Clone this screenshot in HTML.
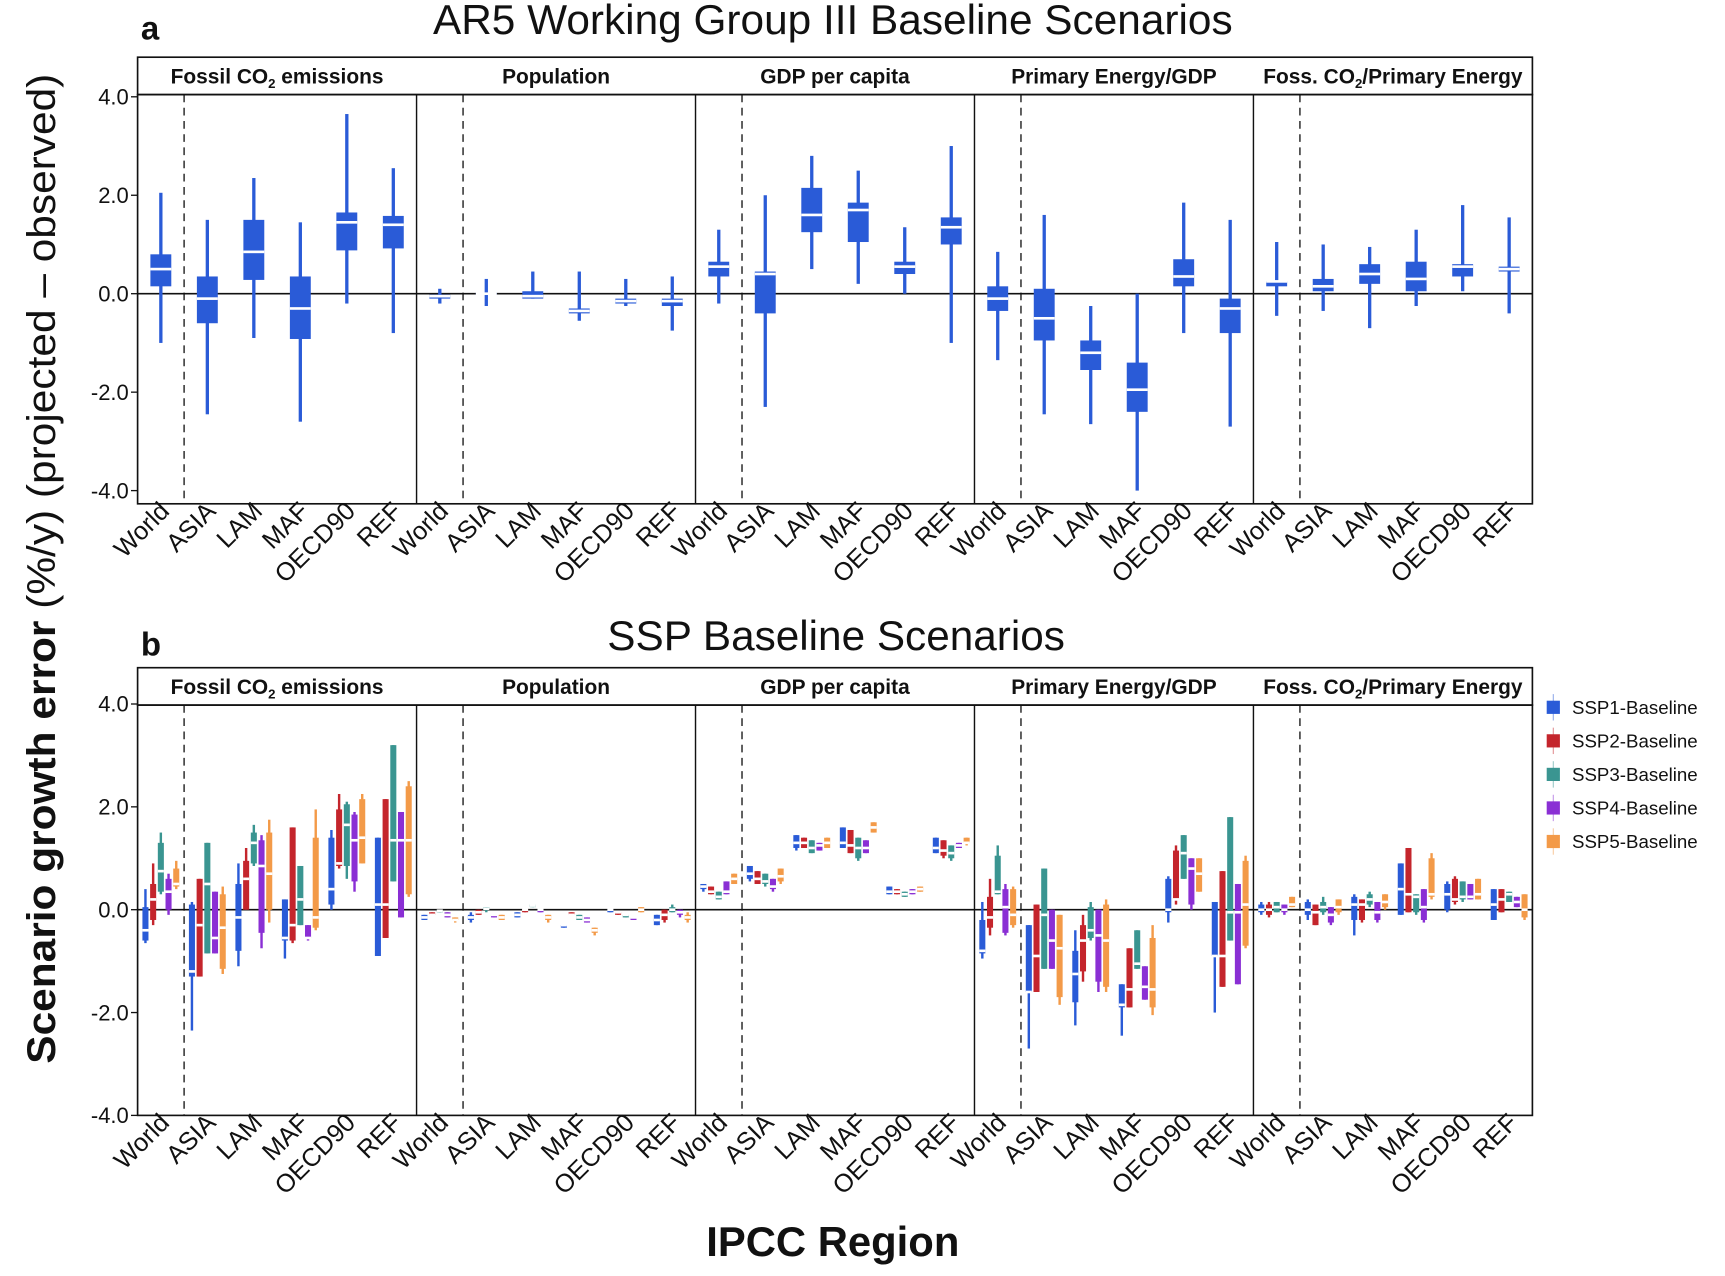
<!DOCTYPE html>
<html><head><meta charset="utf-8"><style>
html,body{margin:0;padding:0;background:#fff}
svg{display:block}
text{font-family:"Liberation Sans",Arial,sans-serif;fill:#111}
</style></head><body>
<svg id="chart" width="1725" height="1276" viewBox="0 0 1568 1160" xmlns="http://www.w3.org/2000/svg">
<text x="128" y="36" font-size="30" font-weight="bold">a</text>
<text x="757" y="31" font-size="38" text-anchor="middle" textLength="727" lengthAdjust="spacingAndGlyphs">AR5 Working Group III Baseline Scenarios</text>
<text x="128" y="596" font-size="30" font-weight="bold">b</text>
<text x="760" y="591" font-size="38" text-anchor="middle" textLength="416" lengthAdjust="spacingAndGlyphs">SSP Baseline Scenarios</text>
<text x="757" y="1142" font-size="38" font-weight="bold" text-anchor="middle">IPCC Region</text>
<text transform="translate(50,517) rotate(-90)" font-size="36" text-anchor="middle" textLength="900" lengthAdjust="spacingAndGlyphs"><tspan font-weight="bold">Scenario growth error</tspan> (%/y) (projected – observed)</text>
<g id="pa"></g><g id="pb"></g><g id="legend"></g>
</svg>
<script>
const facets=["Fossil CO2 emissions","Population","GDP per capita","Primary Energy/GDP","Foss. CO2/Primary Energy"];
const regions=["World","ASIA","LAM","MAF","OECD90","REF"];
const yTicks=[4,2,0,-2,-4];
const yTickLabels=["4.0","2.0","0.0","-2.0","-4.0"];
const seriesNames=["SSP1-Baseline","SSP2-Baseline","SSP3-Baseline","SSP4-Baseline","SSP5-Baseline"];
const seriesColors=["#2a5bd7","#c4252c","#3a9591","#8a2fd4","#f39a48"];
// panel a: [low,q1,median,q3,high] per facet per region
const ar5Fossil=[[-1.0,0.15,0.5,0.8,2.05],[-2.45,-0.6,-0.1,0.35,1.5],[-0.9,0.28,0.85,1.5,2.35],[-2.6,-0.92,-0.3,0.35,1.45],[-0.2,0.88,1.45,1.65,3.65],[-0.8,0.92,1.4,1.58,2.55]];
const ar5Pop=[[-0.2,-0.1,-0.05,-0.02,0.1],[-0.25,-0.02,0,0.02,0.3],[-0.1,-0.1,-0.05,0.05,0.45],[-0.55,-0.4,-0.35,-0.3,0.45],[-0.25,-0.2,-0.15,-0.1,0.3],[-0.75,-0.25,-0.15,-0.1,0.35]];
const ar5GDP=[[-0.2,0.35,0.55,0.65,1.3],[-2.3,-0.4,0.4,0.45,2.0],[0.5,1.25,1.6,2.15,2.8],[0.2,1.05,1.7,1.85,2.5],[0.0,0.4,0.55,0.65,1.35],[-1.0,1.0,1.35,1.55,3.0]];
const ar5PE=[[-1.35,-0.35,-0.1,0.15,0.85],[-2.45,-0.95,-0.5,0.1,1.6],[-2.65,-1.55,-1.2,-0.95,-0.25],[-4.0,-2.4,-1.95,-1.4,0.0],[-0.8,0.15,0.35,0.7,1.85],[-2.7,-0.8,-0.3,-0.1,1.5]];
const ar5CO2PE=[[-0.45,0.15,0.25,0.25,1.05],[-0.35,0.05,0.15,0.3,1.0],[-0.7,0.2,0.4,0.6,0.95],[-0.25,0.05,0.3,0.65,1.3],[0.05,0.35,0.55,0.6,1.8],[-0.4,0.45,0.5,0.55,1.55]];
// panel b: [region][series][low,q1,med,q3,high]
const sspFossil=[
[[-0.65,-0.6,-0.4,0.05,0.4],[-0.3,-0.2,0.2,0.5,0.9],[0.3,0.35,0.75,1.3,1.5],[-0.1,0,0.35,0.6,0.7],[0.4,0.45,0.5,0.8,0.95]],
[[-2.35,-1.3,-1.2,0.1,0.15],[-1.3,-1.3,-0.3,0.6,0.6],[-0.85,-0.85,0.5,1.3,1.3],[-0.85,-0.85,-0.55,0.35,0.35],[-1.25,-1.15,-0.35,0.3,0.45]],
[[-1.1,-0.8,-0.15,0.5,0.9],[0,0,0.6,0.95,1.2],[0.85,0.9,1.3,1.5,1.65],[-0.75,-0.45,0.85,1.35,1.45],[-0.25,0,0.7,1.5,1.75]],
[[-0.95,-0.6,-0.55,0.2,0.2],[-0.65,-0.6,-0.3,1.6,1.6],[-0.3,-0.3,0.2,0.85,0.85],[-0.6,-0.55,-0.55,-0.3,-0.3],[-0.4,-0.35,-0.15,1.4,1.95]],
[[0,0.1,0.4,1.4,1.55],[0.8,0.85,0.9,1.95,2.25],[0.6,0.85,1.65,2.05,2.1],[0.35,0.55,1.35,1.85,1.9],[0.9,0.9,1.4,2.15,2.25]],
[[-0.9,-0.9,0.1,1.4,1.4],[-0.55,-0.55,0.1,2.15,2.15],[0.55,0.55,1.35,3.2,3.2],[-0.15,-0.15,1.35,1.9,1.9],[0.25,0.3,1.35,2.4,2.5]]];
const sspPop=[
[[-0.2,-0.2,-0.15,-0.1,-0.1],[-0.1,-0.1,-0.1,-0.05,-0.05],[-0.05,-0.05,-0.02,0,0],[-0.15,-0.15,-0.1,-0.05,-0.05],[-0.25,-0.2,-0.2,-0.15,-0.15]],
[[-0.25,-0.2,-0.15,-0.1,-0.05],[-0.1,-0.1,-0.05,0,0],[-0.05,0,0.02,0.05,0.05],[-0.15,-0.15,-0.1,-0.1,-0.1],[-0.2,-0.2,-0.15,-0.1,-0.1]],
[[-0.15,-0.15,-0.1,-0.05,-0.05],[-0.05,-0.05,0,0.02,0.02],[0.05,0.05,0.08,0.1,0.1],[-0.05,-0.05,0,0,0],[-0.25,-0.2,-0.15,-0.1,-0.1]],
[[-0.35,-0.35,-0.3,-0.3,-0.3],[-0.1,-0.1,-0.1,-0.05,-0.05],[-0.2,-0.2,-0.15,-0.1,-0.1],[-0.25,-0.25,-0.2,-0.15,-0.15],[-0.5,-0.45,-0.4,-0.35,-0.35]],
[[-0.05,-0.05,0,0,0],[-0.1,-0.1,-0.05,-0.05,-0.05],[-0.15,-0.15,-0.1,-0.1,-0.1],[-0.2,-0.2,-0.15,-0.15,-0.15],[-0.05,-0.05,0,0.05,0.05]],
[[-0.3,-0.3,-0.2,-0.1,-0.1],[-0.25,-0.2,-0.1,0,0],[-0.05,-0.05,0,0.05,0.1],[-0.15,-0.1,-0.05,0,0],[-0.25,-0.2,-0.15,-0.1,-0.05]]];
const sspGDP=[
[[0.35,0.4,0.45,0.5,0.5],[0.3,0.3,0.35,0.45,0.45],[0.2,0.2,0.25,0.35,0.35],[0.3,0.3,0.35,0.55,0.55],[0.5,0.5,0.6,0.7,0.7]],
[[0.55,0.6,0.7,0.85,0.85],[0.5,0.5,0.6,0.75,0.75],[0.45,0.5,0.55,0.7,0.7],[0.35,0.4,0.45,0.6,0.6],[0.5,0.55,0.65,0.8,0.8]],
[[1.15,1.2,1.3,1.45,1.45],[1.2,1.2,1.3,1.4,1.4],[1.1,1.1,1.2,1.35,1.35],[1.15,1.15,1.25,1.3,1.3],[1.2,1.2,1.3,1.4,1.4]],
[[1.2,1.2,1.3,1.6,1.6],[1.1,1.1,1.25,1.55,1.55],[0.95,1.0,1.2,1.4,1.4],[1.1,1.1,1.2,1.35,1.35],[1.5,1.5,1.6,1.7,1.7]],
[[0.3,0.3,0.35,0.45,0.45],[0.3,0.3,0.35,0.4,0.4],[0.25,0.25,0.3,0.35,0.35],[0.3,0.3,0.35,0.4,0.4],[0.35,0.35,0.4,0.45,0.45]],
[[1.1,1.1,1.2,1.4,1.4],[1.0,1.05,1.15,1.35,1.35],[0.95,1.0,1.1,1.25,1.25],[1.2,1.2,1.25,1.3,1.3],[1.25,1.3,1.3,1.4,1.4]]];
const sspPE=[
[[-0.95,-0.85,-0.8,-0.2,0.15],[-0.5,-0.35,-0.15,0.25,0.6],[0.3,0.3,0.35,1.05,1.25],[-0.5,-0.45,0.05,0.4,0.5],[-0.35,-0.3,-0.1,0.4,0.45]],
[[-2.7,-1.6,-1.6,-0.3,-0.3],[-1.6,-1.6,-0.9,0.1,0.1],[-1.15,-1.15,-0.1,0.8,0.8],[-1.15,-1.15,-0.6,0,0],[-1.85,-1.7,-0.75,-0.1,-0.1]],
[[-2.25,-1.8,-1.25,-0.8,-0.4],[-1.4,-1.2,-0.6,-0.3,-0.1],[-0.6,-0.55,-0.4,0.05,0.15],[-1.6,-1.4,-0.5,0,0],[-1.6,-1.5,-0.6,0.1,0.2]],
[[-2.45,-1.9,-1.85,-1.45,-1.45],[-1.9,-1.9,-1.55,-0.75,-0.75],[-1.15,-1.15,-1.05,-0.4,-0.4],[-1.75,-1.75,-1.5,-1.1,-1.1],[-2.05,-1.9,-1.55,-0.55,-0.3]],
[[-0.25,-0.05,0,0.6,0.65],[0.1,0.2,0.2,1.15,1.25],[0.6,0.6,1.1,1.45,1.45],[0,0.1,0.8,1.0,1.0],[0.35,0.35,0.7,1.0,1.0]],
[[-2.0,-0.9,-0.9,0.15,0.15],[-1.5,-1.5,-0.9,0.75,0.75],[-0.6,-0.6,-0.05,1.8,1.8],[-1.45,-1.45,-0.05,0.5,0.5],[-0.75,-0.7,0.1,0.95,1.05]]];
const sspCO2PE=[
[[-0.1,-0.05,0,0.1,0.15],[-0.15,-0.1,0,0.1,0.15],[-0.05,-0.05,0.05,0.15,0.15],[-0.1,-0.05,0,0.1,0.1],[0.05,0.05,0.1,0.25,0.25]],
[[-0.2,-0.1,0,0.15,0.2],[-0.3,-0.3,-0.05,0.1,0.1],[-0.1,-0.05,0.05,0.15,0.25],[-0.3,-0.25,-0.1,0.05,0.05],[-0.1,-0.05,0.05,0.2,0.2]],
[[-0.5,-0.2,0.1,0.25,0.3],[-0.25,-0.2,0.1,0.2,0.2],[0.05,0.1,0.2,0.3,0.35],[-0.25,-0.2,-0.05,0.15,0.15],[0.0,0.05,0.15,0.3,0.3]],
[[-0.1,-0.1,0.4,0.9,0.9],[-0.05,-0.05,0.3,1.2,1.2],[-0.1,-0.05,0.25,0.3,0.3],[-0.25,-0.2,0.05,0.4,0.4],[0.2,0.25,0.3,1.0,1.1]],
[[-0.05,0,0.3,0.5,0.55],[0.1,0.15,0.2,0.6,0.65],[0.15,0.2,0.25,0.55,0.55],[0.2,0.2,0.25,0.5,0.5],[0.2,0.2,0.3,0.6,0.6]],
[[-0.2,-0.2,0.1,0.4,0.4],[-0.05,-0.05,0.2,0.4,0.4],[0.15,0.15,0.3,0.35,0.35],[0.05,0.05,0.15,0.25,0.25],[-0.2,-0.15,0,0.3,0.3]]];

const NS="http://www.w3.org/2000/svg";
function mk(tag,attrs,parent){const e=document.createElementNS(NS,tag);for(const k in attrs)e.setAttribute(k,attrs[k]);parent.appendChild(e);return e;}
const X0=125,X1=1393,FW=(X1-X0)/5,CW=FW/6;
function xCenter(f,r){return X0+f*FW+CW*(r+0.5);}

function drawPanel(g,stripTop,stripBot,y4,y0,plotBot,name){
  const ppu=(y0-y4)/4;
  const yS=v=>y0-v*ppu;
  const strip=mk('rect',{x:X0,y:stripTop,width:X1-X0,height:stripBot-stripTop,fill:'#fff',stroke:'#111','stroke-width':1.5},g);
  
  
  facets.forEach((f,i)=>{
    const t=mk('text',{x:X0+FW*(i+0.5),y:stripTop+24,'font-size':19,'font-weight':'bold','text-anchor':'middle'},g);
    
    
    const parts=f.split('CO2');
    if(parts.length>1){
      t.appendChild(document.createTextNode(parts[0]+'CO'));
      const s=mk('tspan',{'font-size':12,dy:4},t);s.textContent='2';
      const r=mk('tspan',{dy:-4},t);r.textContent=parts[1];
    } else t.textContent=f;
  });
  const fr=mk('rect',{x:X0,y:stripBot,width:X1-X0,height:plotBot-stripBot,fill:'none',stroke:'#111','stroke-width':1.5},g);
  
  
  for(let i=1;i<5;i++){
    const l=mk('line',{x1:X0+FW*i,x2:X0+FW*i,y1:stripBot,y2:plotBot,stroke:'#111','stroke-width':1.3},g);
    
    
  }
  for(let i=0;i<5;i++){
    const x=X0+FW*i+CW;
    const l=mk('line',{x1:x,x2:x,y1:stripBot,y2:plotBot,stroke:'#111','stroke-width':1.2,'stroke-dasharray':'7,5'},g);
    
    
  }
  const z=mk('line',{x1:X0,x2:X1,y1:yS(0),y2:yS(0),stroke:'#111','stroke-width':1.5},g);
  
  
  yTicks.forEach((v,i)=>{
    const tk=mk('line',{x1:X0-6,x2:X0,y1:yS(v),y2:yS(v),stroke:'#111','stroke-width':1.2},g);
    
    
    const t=mk('text',{x:X0-8,y:yS(v)+7,'font-size':20,'text-anchor':'end'},g);
    
    
    t.textContent=yTickLabels[i];
  });
  for(let f=0;f<5;f++)regions.forEach((r,ri)=>{
    const cx=xCenter(f,ri);
    const t=mk('text',{transform:`translate(${cx+9},${plotBot+8}) rotate(-45)`,'font-size':23,'text-anchor':'end'},g);
    
    
    t.textContent=r;
  });
  return yS;
}
function box(g,cx,d,color,bw,ww,yS,name){
  const grp=mk('g',{},g);
  
  
  mk('rect',{x:cx-ww/2,y:yS(d[4]),width:ww,height:Math.max(1,yS(d[0])-yS(d[4])),fill:color},grp);
  mk('rect',{x:cx-bw/2,y:yS(d[3]),width:bw,height:Math.max(1.5,yS(d[1])-yS(d[3])),fill:color},grp);
  mk('rect',{x:cx-bw/2,y:yS(d[2])-1.2,width:bw,height:2.4,fill:'#fff'},grp);
}
const ga=document.getElementById('pa');
const ySa=drawPanel(ga,52,86,88,267,458,'panel-a');
[ar5Fossil,ar5Pop,ar5GDP,ar5PE,ar5CO2PE].forEach((arr,f)=>arr.forEach((d,ri)=>box(ga,xCenter(f,ri),d,'#2a5bd7',19,3,ySa,'ar5-box-'+regions[ri].toLowerCase())));
const gb=document.getElementById('pb');
const ySb=drawPanel(gb,607,641,640,827,1014,'panel-b');
[sspFossil,sspPop,sspGDP,sspPE,sspCO2PE].forEach((arr,f)=>arr.forEach((reg,ri)=>reg.forEach((d,si)=>box(gb,xCenter(f,ri)+(si-2)*7,d,seriesColors[si],5.5,2.2,ySb,'ssp'+(si+1)+'-box'))));
const gl=document.getElementById('legend');
seriesNames.forEach((s,i)=>{
  const y=643+i*30.5;
  const e=mk('g',{},gl);
  
  
  mk('line',{x1:1412,x2:1412,y1:y-12,y2:y+12,stroke:seriesColors[i],'stroke-width':1,opacity:0.5},e);
  mk('rect',{x:1406,y:y-6,width:12,height:12,fill:seriesColors[i]},e);
  const t=mk('text',{x:1429,y:y+6,'font-size':17},e);
  t.textContent=s;
});
</script>
</body></html>
